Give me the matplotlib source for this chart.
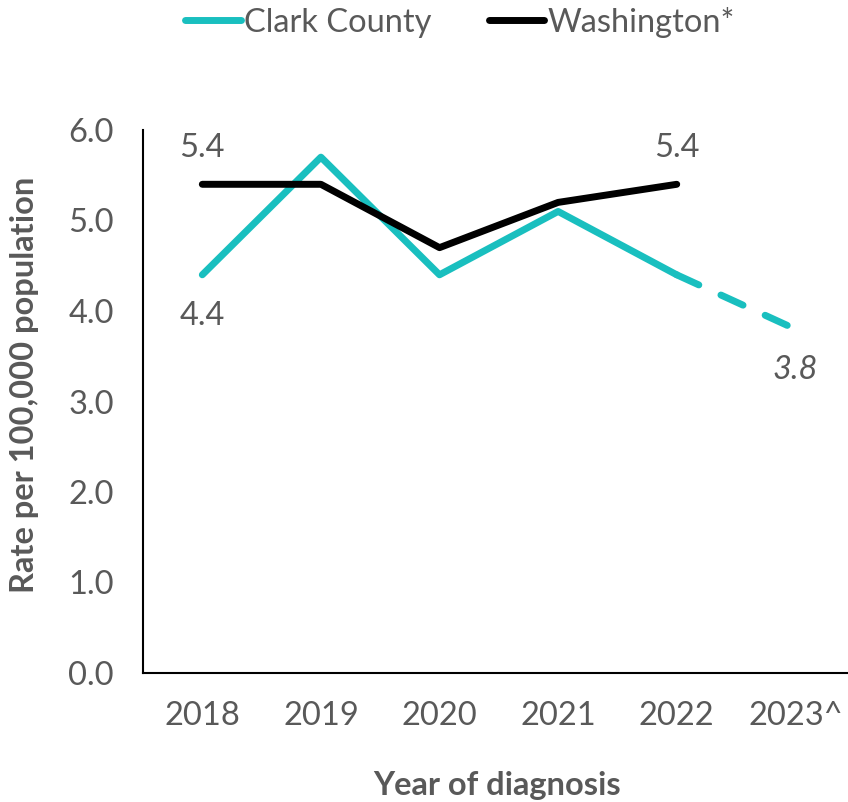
import matplotlib.pyplot as plt

plt.rcParams['font.family'] = ['Lato', 'DejaVu Sans']

years = ["2018", "2019", "2020", "2021", "2022", "2023^"]
clark = [4.4, 5.7, 4.4, 5.1, 4.4, 3.8]
washington = [5.4, 5.4, 4.7, 5.2, 5.4]

teal = '#19BFBF'
gray = '#595959'
fs = 23.5

fig = plt.figure(figsize=(8.48, 8.02), dpi=100)
ax = fig.add_axes([143 / 848, 129 / 802, 705 / 848, 543 / 802])

x = list(range(len(years)))
# solid part through 2022, dashed to the preliminary 2023 value
ax.plot(x[:5], clark[:5], color=teal, lw=5, solid_capstyle='round',
        solid_joinstyle='round', label='Clark County', zorder=2)
ax.plot(x[4:], clark[4:], color=teal, lw=5, dashes=(3.5, 3.5),
        dash_capstyle='round', zorder=2)
ax.plot(x[:5], washington, color='black', lw=5, solid_capstyle='round',
        solid_joinstyle='round', label='Washington*', zorder=3)

# data labels
ax.annotate(f"{washington[0]:.1f}", (0, washington[0]), xytext=(0, 15),
            textcoords='offset points', ha='center', va='bottom', fontsize=fs, color=gray)
ax.annotate(f"{washington[4]:.1f}", (4, washington[4]), xytext=(0, 15),
            textcoords='offset points', ha='center', va='bottom', fontsize=fs, color=gray)
ax.annotate(f"{clark[0]:.1f}", (0, clark[0]), xytext=(0, -19),
            textcoords='offset points', ha='center', va='top', fontsize=fs, color=gray)
ax.annotate(f"{clark[5]:.1f}", (5, clark[5]), xytext=(0, -19),
            textcoords='offset points', ha='center', va='top', fontsize=fs, color=gray,
            style='italic')

ax.set_xlim(-0.5, 5.444)
ax.set_ylim(0, 6)
ax.set_xticks(x)
ax.set_xticklabels(years)
ax.set_yticks([0, 1, 2, 3, 4, 5, 6])
ax.set_yticklabels([f"{v:.1f}" for v in range(7)])
ax.tick_params(axis='both', length=0, labelsize=fs, labelcolor=gray)
ax.tick_params(axis='x', pad=20)
ax.tick_params(axis='y', pad=21)

for s in ['top', 'right']:
    ax.spines[s].set_visible(False)
ax.spines['left'].set_linewidth(1.5)
ax.spines['bottom'].set_linewidth(1.5)

fig.text(25 / 848, 1 - 385 / 802, "Rate per 100,000 population", rotation=90,
         ha='center', va='center', fontsize=fs, fontweight='bold', color=gray)
fig.text(497 / 848, 1 - 785 / 802, "Year of diagnosis", ha='center', va='center',
         fontsize=fs, fontweight='bold', color=gray)

fig.legend(loc='center', bbox_to_anchor=(0.5425, 1 - 22 / 802), ncol=2, frameon=False,
           fontsize=fs, labelcolor=gray, handlelength=1.7, handletextpad=0.1,
           columnspacing=1.75)

fig.savefig("out.png", dpi=100)
